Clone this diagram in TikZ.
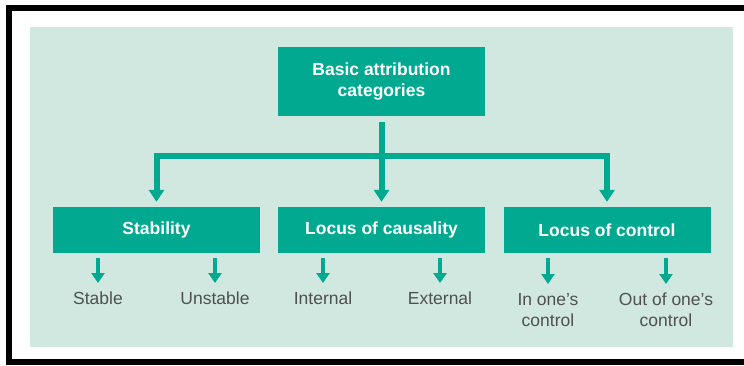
\documentclass[tikz,border=0pt]{standalone}
\usepackage{fontspec}
\setmainfont{Liberation Sans}
\usetikzlibrary{arrows.meta,positioning}
\definecolor{boxgreen}{HTML}{00A98F}
\definecolor{panelgreen}{HTML}{D1E8E1}
\definecolor{labelgrey}{HTML}{505050}
\tikzset{
  catbox/.style={fill=boxgreen, text=white, font=\bfseries\fontsize{17.5}{21}\selectfont,
    minimum width=207pt, minimum height=46pt, inner sep=0pt, align=center},
  leaf/.style={text=labelgrey, font=\fontsize{17.5}{21}\selectfont,
    anchor=north, inner sep=0pt, align=center},
  trunk/.style={draw=boxgreen, line width=6pt},
  branch/.style={trunk, -{Triangle[width=15pt,length=12pt]}, shorten >=5pt},
  twig/.style={draw=boxgreen, line width=4.5pt, -{Triangle[width=13pt,length=10pt]},
    shorten <=5pt, shorten >=9pt}
}
\begin{document}
\begin{tikzpicture}[x=1pt,y=-1pt]
                \useasboundingbox (0,0) rectangle (744,365);
                \clip (0,0) rectangle (744,365);
                \fill [panelgreen] (30,27) rectangle (733,347);
                \draw [line width=6pt] (760,361.5) -- (9,361.5) -- (9,7.5) -- (760,7.5);
                \node [catbox, minimum height=69pt] (basic) at (381.5,81.5) {Basic attribution\\categories};
                \node [catbox] (stab) at (156.5,230) {Stability};
                \node [catbox] (caus) at (381.5,230) {Locus of causality};
                \node [catbox] (ctrl) at (607,230) {Locus of control};
                \coordinate (fork) at (381.5,156);
                \node [leaf] (stable) at (98,292) {Stable};
                \node [leaf] (unstable) at (215,292) {Unstable};
                \node [leaf] (internal) at (323,292) {Internal};
                \node [leaf] (external) at (440,292) {External};
                \node [leaf] (inctrl) at (548,293) {In one's\\control};
                \node [leaf] (outctrl) at (666,293) {Out of one's\\control};
                \draw [trunk, shorten <=6pt] (basic.south) to (fork);
                \draw [branch] (fork) -| (stab);
                \draw [branch] (fork) -- (caus);
                \draw [branch] (fork) -| (ctrl);
                \draw [twig] (stable |- stab.south) to (stable.north);
                \draw [twig] (unstable |- stab.south) to (unstable.north);
                \draw [twig] (internal |- caus.south) to (internal.north);
                \draw [twig] (external |- caus.south) to (external.north);
                \draw [twig] (inctrl |- ctrl.south) to (inctrl.north);
                \draw [twig] (outctrl |- ctrl.south) to (outctrl.north);
            \end{tikzpicture}
\end{document}
